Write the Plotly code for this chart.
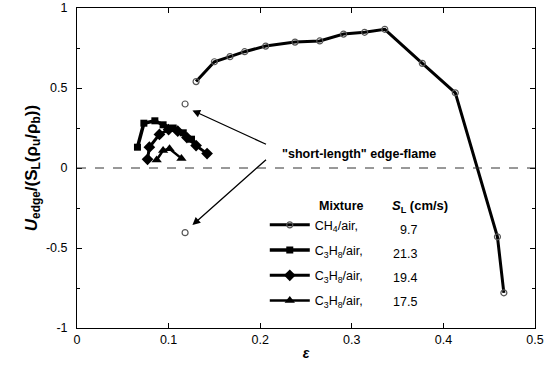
import plotly.graph_objects as go

# ---- data ----
ch4_eps = [0.130, 0.150, 0.167, 0.183, 0.206, 0.238, 0.265, 0.291, 0.314, 0.336, 0.377, 0.413, 0.459, 0.466]
ch4_u   = [0.54, 0.664, 0.696, 0.727, 0.762, 0.787, 0.794, 0.837, 0.848, 0.867, 0.654, 0.47, -0.43, -0.78]

short_eps = [0.118, 0.118]
short_u   = [0.40, -0.404]

sq_eps = [0.066, 0.073, 0.085, 0.094, 0.105, 0.116, 0.125]
sq_u   = [0.13, 0.28, 0.295, 0.27, 0.25, 0.22, 0.18]

di_eps = [0.077, 0.079, 0.090, 0.100, 0.110, 0.120, 0.130, 0.142]
di_u   = [0.054, 0.13, 0.21, 0.24, 0.23, 0.19, 0.14, 0.09]

tr_eps = [0.087, 0.094, 0.101, 0.114]
tr_u   = [0.05, 0.11, 0.12, 0.06]

mixtures = ["CH<sub>4</sub>/air,", "C<sub>3</sub>H<sub>8</sub>/air,",
            "C<sub>3</sub>H<sub>8</sub>/air,", "C<sub>3</sub>H<sub>8</sub>/air,"]
SL = ["9.7", "21.3", "19.4", "17.5"]

x_ticks = [0, 0.1, 0.2, 0.3, 0.4, 0.5]
x_ticktext = ["0", "0.1", "0.2", "0.3", "0.4", "0.5"]
y_ticks = [-1, -0.5, 0, 0.5, 1]
y_ticktext = ["-1", "-0.5", "0", "0.5", "1"]

FONT = "Liberation Sans, Arial, sans-serif"

fig = go.Figure()

fig.add_trace(go.Scatter(
    x=ch4_eps, y=ch4_u, mode="lines+markers", name=mixtures[0],
    legendgroup="a",
    line=dict(color="black", width=3),
    marker=dict(symbol="circle-open", size=6, color="#555555", line=dict(width=1.2))))
fig.add_trace(go.Scatter(
    x=short_eps, y=short_u, mode="markers", showlegend=False,
    marker=dict(symbol="circle-open", size=6, color="#555555", line=dict(width=1.2))))
fig.add_trace(go.Scatter(
    x=sq_eps, y=sq_u, mode="lines+markers", name=mixtures[1],
    legendgroup="b",
    line=dict(color="black", width=3.5),
    marker=dict(symbol="square", size=7, color="black")))
fig.add_trace(go.Scatter(
    x=di_eps, y=di_u, mode="lines+markers", name=mixtures[2],
    legendgroup="c",
    line=dict(color="black", width=3),
    marker=dict(symbol="diamond", size=9, color="black")))
fig.add_trace(go.Scatter(
    x=tr_eps, y=tr_u, mode="lines+markers", name=mixtures[3],
    legendgroup="d",
    line=dict(color="black", width=2.5),
    marker=dict(symbol="triangle-up", size=9, color="black")))

# zero reference line
fig.add_shape(type="line", xref="x domain", yref="y", x0=0, x1=1, y0=0, y1=0,
              line=dict(color="#333333", width=1, dash="dash"))

annotations = []
# arrows pointing to the short-length edge-flame points
annotations.append(dict(x=0.126, y=0.36, ax=0.208, ay=0.144, xref="x", yref="y",
                        axref="x", ayref="y", showarrow=True, arrowhead=2,
                        arrowsize=1.2, arrowwidth=1.3, arrowcolor="black", text=""))
annotations.append(dict(x=0.126, y=-0.357, ax=0.208, ay=0.06, xref="x", yref="y",
                        axref="x", ayref="y", showarrow=True, arrowhead=2,
                        arrowsize=1.2, arrowwidth=1.3, arrowcolor="black", text=""))
annotations.append(dict(x=0.308, y=0.085, xref="x", yref="y", showarrow=False,
                        text="<b>\"short-length\" edge-flame</b>",
                        font=dict(family=FONT, size=12.5, color="black")))
# legend headers
annotations.append(dict(x=0.289, y=-0.24, xref="x", yref="y", showarrow=False,
                        text="<b>Mixture</b>", font=dict(family=FONT, size=12.5, color="black")))
annotations.append(dict(x=0.374, y=-0.24, xref="x", yref="y", showarrow=False,
                        text="<b><i>S</i><sub>L</sub> (cm/s)</b>",
                        font=dict(family=FONT, size=13, color="black")))
row_y = [-0.3875, -0.5375, -0.6875, -0.8375]
for v, yy in zip(SL, row_y):
    annotations.append(dict(x=0.373, y=yy, xref="x", yref="y", showarrow=False,
                            xanchor="right", text=v,
                            font=dict(family=FONT, size=12.5, color="black")))

fig.update_layout(
    width=555, height=368,
    margin=dict(l=77, r=20, t=8, b=40, autoexpand=False),
    paper_bgcolor="white", plot_bgcolor="white",
    font=dict(family=FONT, size=12, color="black"),
    annotations=annotations,
    legend=dict(x=0.41, y=0.368, xanchor="left", yanchor="top",
                bgcolor="rgba(0,0,0,0)", font=dict(family=FONT, size=12.5, color="black"),
                tracegroupgap=6, itemwidth=40, traceorder="grouped"),
    showlegend=True,
)
fig.update_xaxes(
    range=[0, 0.5], tickvals=x_ticks, ticktext=x_ticktext, automargin=False,
    showline=True, linecolor="black", linewidth=1, mirror="ticks",
    ticks="inside", ticklen=5, tickcolor="black", showgrid=False, zeroline=False,
    tickfont=dict(family=FONT, size=12.5, color="black"),
    title=dict(text="<i><b>ε</b></i>", font=dict(family=FONT, size=14, color="black"), standoff=2),
)
fig.update_yaxes(
    range=[-1, 1], tickvals=y_ticks, ticktext=y_ticktext, automargin=False,
    showline=True, linecolor="black", linewidth=1, mirror="ticks",
    ticks="inside", ticklen=5, tickcolor="black", showgrid=False, zeroline=False,
    minor=dict(dtick=0.25, ticks="inside", ticklen=3, tickcolor="black"),
    tickfont=dict(family=FONT, size=12.5, color="black"),
    ticklabelstandoff=6,
    title=dict(text="<b><i>U</i><sub>edge</sub>/(S<sub>L</sub>(ρ<sub>u</sub>/ρ<sub>b</sub>))</b>",
               font=dict(family=FONT, size=17, color="black"), standoff=4),
)

fig.write_html("out.html", config={"displayModeBar": False},
               post_script="document.body.style.margin='0';")
